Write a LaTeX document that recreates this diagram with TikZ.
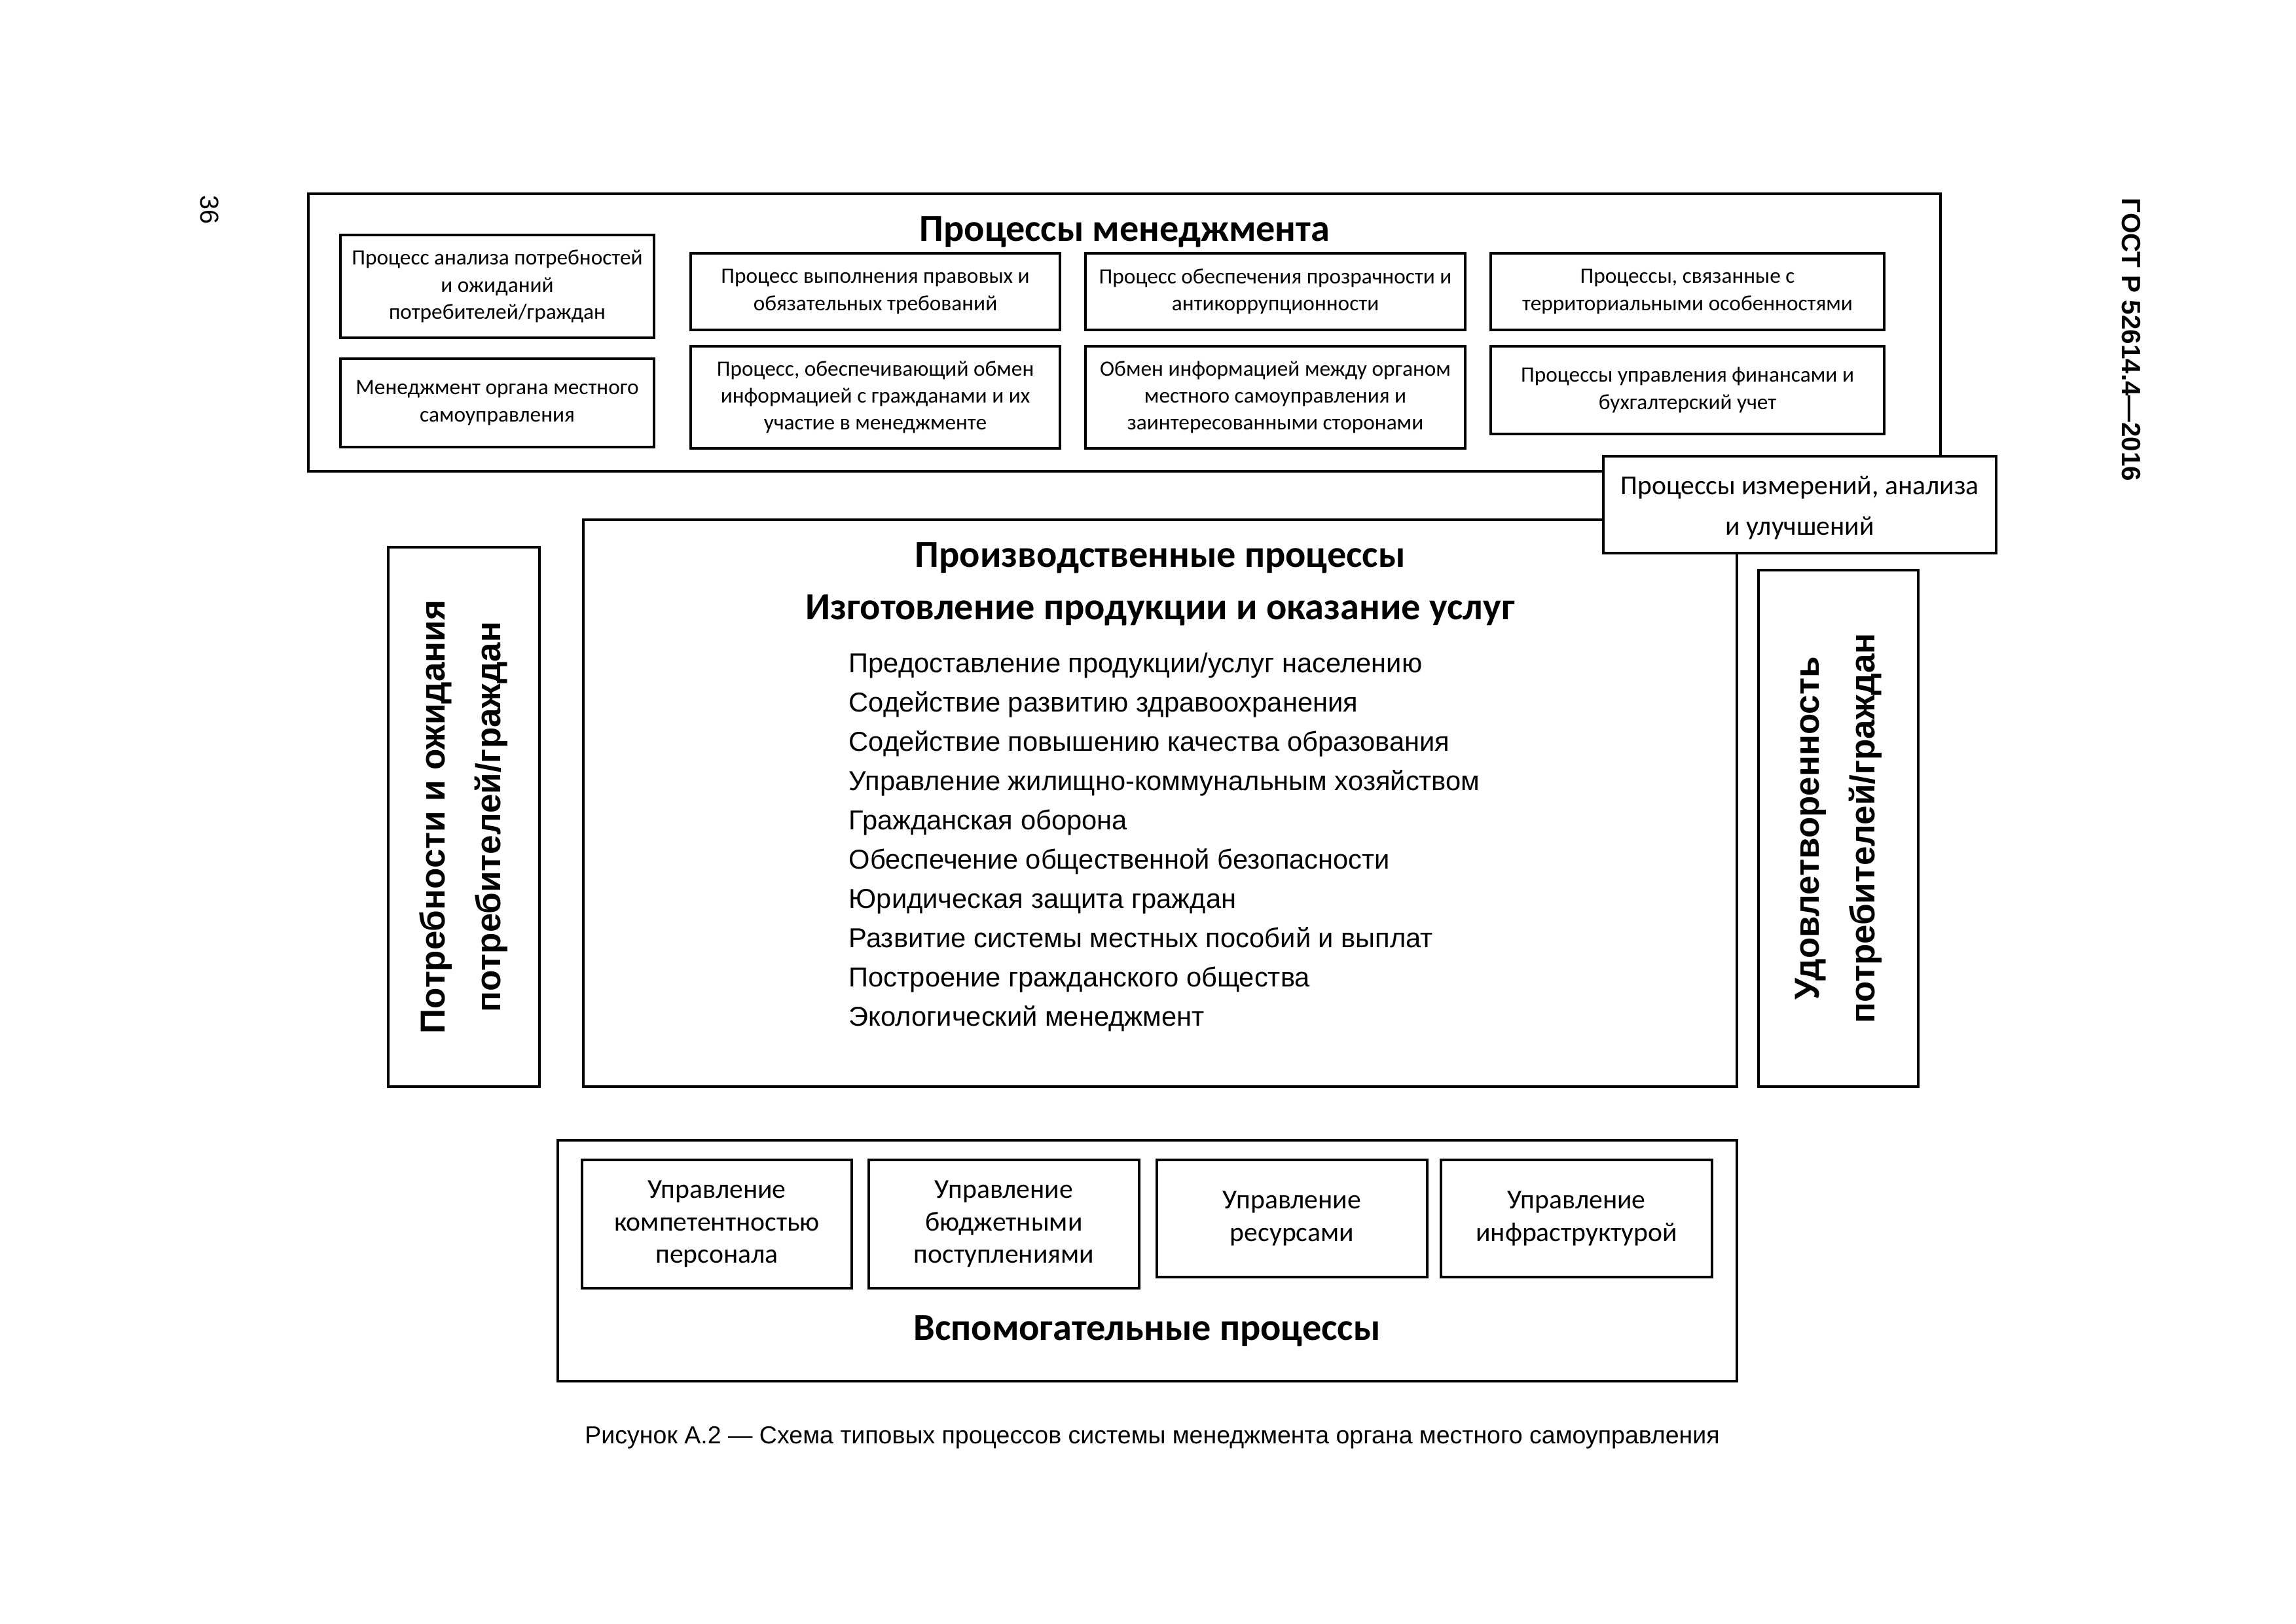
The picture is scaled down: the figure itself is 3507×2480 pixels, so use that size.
\documentclass[tikz,border=0pt]{standalone}
\usepackage{fontspec}
\setmainfont{Carlito}
\newfontfamily\arial{Liberation Sans}
\newcommand\pbox[7][]{%
  \node[box,#1, minimum width={(#4-#2)*0.24pt}, minimum height={(#5-#3)*0.24pt}] (#6) at ({(#2+#4)/2},{(#3+#5)/2}) {#7};}
\tikzset{
  box/.style={draw, line width=1pt, fill=white, inner sep=0pt, align=center},
  mgtext/.style={font=\fontsize{8}{9.9}\selectfont},
  suptext/.style={font=\fontsize{10}{11.9}\selectfont},
  meastext/.style={font=\fontsize{10}{15}\selectfont},
  titletext/.style={font=\fontsize{14}{16}\selectfont\bfseries, inner sep=0pt},
  listitem/.style={font=\arial\fontsize{10}{12}\selectfont, inner sep=0pt},
  verttext/.style={font=\arial\bfseries\fontsize{12.7}{20.4}\selectfont},
}
\begin{document}
\begin{tikzpicture}[x=0.24pt, y=-0.24pt]
\useasboundingbox (0,0) rectangle (3507,2480);
% page header
\node[font=\arial\fontsize{9.5}{11}\selectfont, rotate=-90, inner sep=0pt] (pnum) at (320,321) {36};
\node[font=\arial\bfseries\fontsize{9.7}{11}\selectfont, rotate=-90, inner sep=0pt] (gost) at (3255,519) {ГОСТ Р 52614.4—2016};
% management
\pbox{471}{296}{2964}{720}{mgmt}{}
\node[titletext, anchor=base] (mgmttitle) at (1718,368) {Процессы менеджмента};
\pbox[mgtext]{520}{359}{999}{516}{ma}{Процесс анализа потребностей\\и ожиданий\\потребителей/граждан}
\pbox[mgtext]{520}{548}{999}{683}{me}{Менеджмент органа местного\\самоуправления}
\pbox[mgtext]{1055}{387}{1619}{504}{mb}{Процесс выполнения правовых и\\обязательных требований}
\pbox[mgtext]{1055}{529}{1619}{685}{mf}{Процесс, обеспечивающий обмен\\информацией с гражданами и их\\участие в менеджменте}
\pbox[mgtext]{1658}{387}{2238}{504}{mc}{Процесс обеспечения прозрачности и\\антикоррупционности}
\pbox[mgtext]{1658}{529}{2238}{685}{mg}{Обмен информацией между органом\\местного самоуправления и\\заинтересованными сторонами}
\pbox[mgtext]{2277}{387}{2878}{504}{md}{Процессы, связанные с\\территориальными особенностями}
\pbox[mgtext]{2277}{529}{2878}{663}{mh}{Процессы управления финансами и\\бухгалтерский учет}
% production
\pbox{891}{794}{2653}{1660}{prod}{}
\node[titletext, anchor=base] (prodt1) at (1772,866) {Производственные процессы};
\node[titletext, anchor=base] (prodt2) at (1772,946) {Изготовление продукции и оказание услуг};
\foreach \t [count=\i from 0] in {Предоставление продукции/услуг населению,Содействие развитию здравоохранения,Содействие повышению качества образования,Управление жилищно-коммунальным хозяйством,Гражданская оборона,Обеспечение общественной безопасности,Юридическая защита граждан,Развитие системы местных пособий и выплат,Построение гражданского общества,Экологический менеджмент}
  \node[listitem, anchor=base west] (li\i) at (1296,{1027+60.1*\i}) {\t};
% measurement (drawn over the corners of the two boxes above)
\pbox{2449}{697}{3049}{845}{meas}{}
\node[meastext, align=center, inner sep=0pt] (meast) at (2749,776) {Процессы измерений, анализа\\и улучшений};
% side boxes
\pbox{593}{836}{824}{1660}{needs}{}
\node[verttext, rotate=90, align=center] (needst) at (needs.center) {Потребности и ожидания\\потребителей/граждан};
\pbox{2686}{871}{2930}{1660}{satis}{}
\node[verttext, rotate=90, align=center] (satist) at (satis.center) {Удовлетворенность\\потребителей/граждан};
% support
\pbox{852}{1742}{2653}{2110}{supp}{}
\pbox[suptext]{889}{1772}{1301}{1968}{s1}{Управление\\компетентностью\\персонала}
\pbox[suptext]{1327}{1772}{1740}{1968}{s2}{Управление\\бюджетными\\поступлениями}
\pbox[suptext]{1767}{1772}{2180}{1951}{s3}{Управление\\ресурсами}
\pbox[suptext]{2201}{1772}{2615}{1951}{s4}{Управление\\инфраструктурой}
\node[titletext, anchor=base] (supptitle) at (1752,2047) {Вспомогательные процессы};
% caption
\node[font=\arial\fontsize{9}{11}\selectfont, inner sep=0pt] (caption) at (1760,2196) {Рисунок А.2 — Схема типовых процессов системы менеджмента органа местного самоуправления};
\end{tikzpicture}
\end{document}
